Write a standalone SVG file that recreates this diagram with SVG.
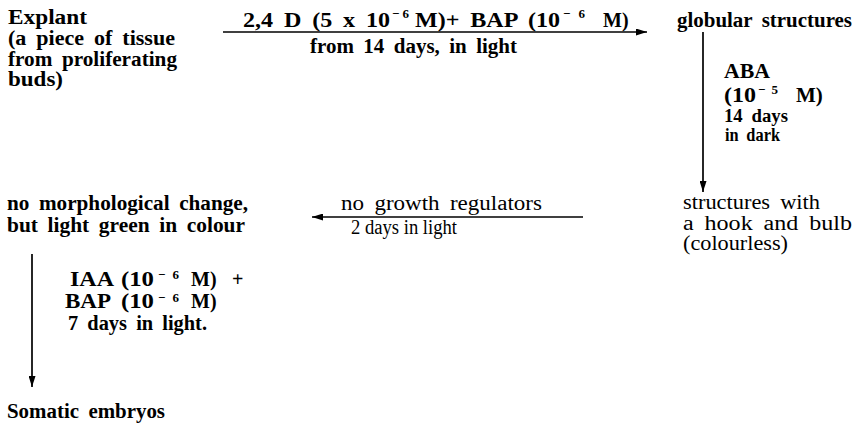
<svg xmlns="http://www.w3.org/2000/svg" width="857" height="428" viewBox="0 0 857 428">
<style>
.t{font-family:"Liberation Serif","Times New Roman",serif;font-size:20px;font-weight:bold;fill:#000;word-spacing:4px}
.n{font-weight:normal;font-size:20px}
.sm{font-size:18px}
.md{font-size:20px;word-spacing:0}
.big{font-size:21px}
.sup{font-size:13px}
.ln{stroke:#000;stroke-width:1.7;fill:none}
</style>
<defs>
<marker id="ah" markerUnits="userSpaceOnUse" markerWidth="11" markerHeight="7" refX="11" refY="3.5" orient="auto">
<path d="M0,0 L11,3.5 L0,7 Z" fill="#000"/>
</marker>
</defs>
<rect width="857" height="428" fill="#fff"/>

<g id="connectors">
<g id="e1">
<line class="ln" x1="223" y1="32" x2="647" y2="32" marker-end="url(#ah)"/>
<text class="t"><tspan x="243" y="27" textLength="147" lengthAdjust="spacingAndGlyphs">2,4 D (5 x 10</tspan><tspan class="sup" x="392" y="18" textLength="17">−6</tspan><tspan x="415" y="27" textLength="145" lengthAdjust="spacingAndGlyphs">M)+ BAP (10</tspan><tspan class="sup" x="563" y="18" textLength="22">−6</tspan><tspan x="603" y="27">M)</tspan></text>
<text class="t" x="310" y="53" textLength="207" lengthAdjust="spacingAndGlyphs">from 14 days, in light</text>
</g>
<g id="e2">
<line class="ln" x1="703" y1="32" x2="703" y2="192" marker-end="url(#ah)"/>
<text class="t big" x="724" y="78" textLength="46" lengthAdjust="spacingAndGlyphs">ABA</text>
<text class="t big"><tspan x="724" y="102" textLength="32" lengthAdjust="spacingAndGlyphs">(10</tspan><tspan class="sup" x="758" y="94" textLength="20">−5</tspan><tspan x="796" y="102">M)</tspan></text>
<text class="t sm" x="724" y="122" textLength="64" lengthAdjust="spacingAndGlyphs">14 days</text>
<text class="t sm" x="725" y="141" textLength="55" lengthAdjust="spacingAndGlyphs">in dark</text>
</g>
<g id="e3">
<line class="ln" x1="583" y1="217" x2="312" y2="217" marker-end="url(#ah)"/>
<text class="t n" x="341" y="210" textLength="201" lengthAdjust="spacingAndGlyphs">no growth regulators</text>
<text class="t n md" x="351" y="234" textLength="106" lengthAdjust="spacingAndGlyphs">2 days in light</text>
</g>
<g id="e4">
<line class="ln" x1="32" y1="254" x2="32" y2="387" marker-end="url(#ah)"/>
<text class="t"><tspan x="70" y="286" textLength="44" lengthAdjust="spacingAndGlyphs">IAA</tspan><tspan x="121" y="286" textLength="33" lengthAdjust="spacingAndGlyphs">(10</tspan><tspan class="sup" x="158" y="279" textLength="21">−6</tspan><tspan x="191" y="286">M)</tspan><tspan x="232" y="286">+</tspan></text>
<text class="t"><tspan x="65" y="308" textLength="46" lengthAdjust="spacingAndGlyphs">BAP</tspan><tspan x="121" y="308" textLength="33" lengthAdjust="spacingAndGlyphs">(10</tspan><tspan class="sup" x="158" y="302" textLength="21">−6</tspan><tspan x="191" y="308">M)</tspan></text>
<text class="t" x="68" y="330" textLength="139" lengthAdjust="spacingAndGlyphs">7 days in light.</text>
</g>
</g>

<g id="n1">
<text class="t" x="8" y="24" textLength="79" lengthAdjust="spacingAndGlyphs">Explant</text>
<text class="t" x="8" y="45" textLength="167" lengthAdjust="spacingAndGlyphs">(a piece of tissue</text>
<text class="t" x="8" y="66" textLength="169" lengthAdjust="spacingAndGlyphs">from proliferating</text>
<text class="t" x="8" y="86" textLength="55" lengthAdjust="spacingAndGlyphs">buds)</text>
</g>
<g id="n2">
<text class="t" x="677" y="27" textLength="175" lengthAdjust="spacingAndGlyphs">globular structures</text>
</g>
<g id="n3">
<text class="t n" x="683" y="209" textLength="137" lengthAdjust="spacingAndGlyphs">structures with</text>
<text class="t n" x="683" y="230" textLength="169" lengthAdjust="spacingAndGlyphs">a hook and bulb</text>
<text class="t n" x="683" y="250" textLength="105" lengthAdjust="spacingAndGlyphs">(colourless)</text>
</g>
<g id="n4">
<text class="t" x="7" y="210" textLength="241" lengthAdjust="spacingAndGlyphs">no morphological change,</text>
<text class="t" x="7" y="232" textLength="238" lengthAdjust="spacingAndGlyphs">but light green in colour</text>
</g>
<g id="n5">
<text class="t" x="7" y="418" textLength="158" lengthAdjust="spacingAndGlyphs">Somatic embryos</text>
</g>
</svg>
